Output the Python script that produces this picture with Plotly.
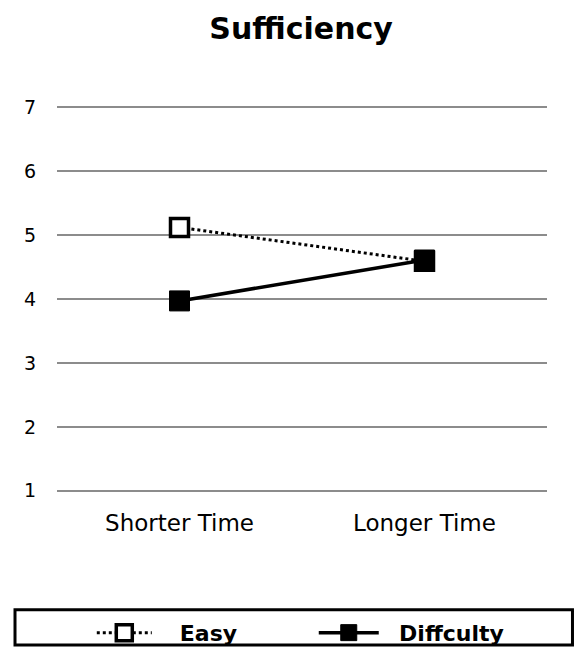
import plotly.graph_objects as go

categories = ["Shorter Time", "Longer Time"]
easy = [5.12, 4.59]
difficulty = [3.97, 4.61]
y_ticks = [1, 2, 3, 4, 5, 6, 7]
series_names = ["Easy", "Diffculty"]

FONT = "DejaVu Sans"
LEG_FONT = dict(size=22, family=FONT, color="black", weight="bold")
NB = "\u00a0"

fig = go.Figure()
fig.add_trace(go.Scatter(
    x=categories, y=easy, name=NB * 3 + series_names[0], mode="lines+markers",
    line=dict(color="black", width=3, dash="dot"),
    marker=dict(symbol="square", size=18, color="white",
                line=dict(color="black", width=3.5)),
    legend="legend",
))
fig.add_trace(go.Scatter(
    x=categories, y=difficulty, name=NB * 2 + series_names[1], mode="lines+markers",
    line=dict(color="black", width=3.5),
    marker=dict(symbol="square", size=20, color="black",
                line=dict(color="black", width=1)),
    legend="legend2",
))

fig.update_layout(
    width=567, height=639,
    margin=dict(l=49, r=28, t=96, b=153, autoexpand=False),
    plot_bgcolor="white", paper_bgcolor="white",
    font=dict(family=FONT, color="black"),
    title=dict(text="<b>Sufficiency</b>", x=0.517, xanchor="center",
               y=0.9687, yanchor="middle", font=dict(size=30, family=FONT, color="black")),
    xaxis=dict(showgrid=False, showline=False, zeroline=False, ticks="",
               tickfont=dict(size=23, family=FONT), range=[-0.5, 1.5],
               automargin=False, ticklabelstandoff=13),
    yaxis=dict(range=[0.95, 7.05], tickvals=y_ticks, showgrid=True, gridcolor="#8c8c8c",
               gridwidth=2, zeroline=False, showline=False, ticks="",
               tickfont=dict(size=19, family=FONT), ticklabelstandoff=20,
               automargin=False),
    showlegend=True,
    legend=dict(orientation="h", x=0.071, xanchor="left", y=-0.356, yanchor="middle",
                font=LEG_FONT, bgcolor="rgba(0,0,0,0)", borderwidth=0, itemwidth=55),
    legend2=dict(orientation="h", x=0.524, xanchor="left", y=-0.356, yanchor="middle",
                 font=LEG_FONT, bgcolor="rgba(0,0,0,0)", borderwidth=0, itemwidth=60),
    shapes=[dict(type="rect", xref="paper", yref="paper",
                 x0=-0.0857, x1=1.052, y0=-0.387, y1=-0.297,
                 line=dict(color="black", width=3), fillcolor="rgba(0,0,0,0)")],
)

fig.write_html("out.html")
